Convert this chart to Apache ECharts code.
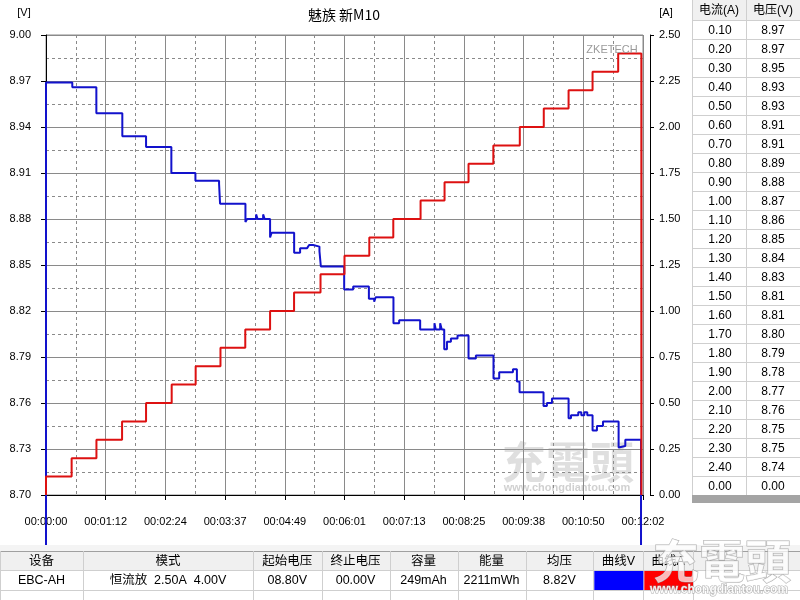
<!DOCTYPE html>
<html>
<head>
<meta charset="utf-8">
<script src="https://cdn.jsdelivr.net/npm/echarts@6/dist/echarts.min.js"></script>
<style>
html, body { margin: 0; padding: 0; background: #fff; }
#chart { width: 800px; height: 600px; }
</style>
</head>
<body>
<div id="chart"></div>
<script>
// 曲线数据 (时间单位: 秒)
var chartTitle = '魅族 新M10';
var voltTimes = [0, 0, 31.8, 60.9, 92.3, 121, 151.6, 180.7, 209.3, 210.5, 241.2, 243.2, 254.1, 255.9, 262.6, 264.4,
    271, 272.9, 300.1, 307.3, 315.8, 318.2, 323.1, 330.7, 332.4, 360.6, 371.5, 390.5, 396.9, 398.7,
    420.2, 427.1, 452.5, 469.8, 471.3, 476.7, 478.6, 481.6, 484.9, 489.7, 497.7, 511, 519.9,
    541.2, 548.1, 564.7, 569.5, 572.7, 601.7, 605.8, 611.9, 632, 634.9, 643.7, 647.4, 651, 654.6,
    661, 666.3, 673.6, 692.5, 694.5, 700.6, 719.6];
var voltValues = [0, 8.969, 8.966, 8.949, 8.934, 8.927, 8.910, 8.905, 8.903, 8.890, 8.878, 8.880, 8.883, 8.880, 8.883, 8.880,
    8.868, 8.871, 8.858, 8.861, 8.862, 8.863, 8.862, 8.859, 8.849, 8.834, 8.836, 8.828, 8.826, 8.829,
    8.812, 8.814, 8.808, 8.812, 8.808, 8.812, 8.808, 8.795, 8.800, 8.802, 8.804, 8.789, 8.791,
    8.776, 8.780, 8.782, 8.774, 8.767, 8.758, 8.760, 8.763, 8.750, 8.752, 8.754, 8.752, 8.754, 8.752,
    8.742, 8.745, 8.748, 8.731, 8.732, 8.736, 0];
var stepTimes = [0, 31, 61, 92, 121, 152, 181, 211, 241, 271, 300, 332, 361, 391, 420, 453, 482, 511, 541, 573, 602, 632, 661, 692];
var stepCurrents = [0.1, 0.2, 0.3, 0.4, 0.5, 0.6, 0.7, 0.8, 0.9, 1.0, 1.1, 1.2, 1.3, 1.4, 1.5, 1.6, 1.7, 1.8, 1.9, 2.0, 2.1, 2.2, 2.3, 2.4];
var endTime = 720;

// 右侧表格
var tableCurrents = ['0.10', '0.20', '0.30', '0.40', '0.50', '0.60', '0.70', '0.80', '0.90', '1.00', '1.10', '1.20', '1.30',
    '1.40', '1.50', '1.60', '1.70', '1.80', '1.90', '2.00', '2.10', '2.20', '2.30', '2.40', '0.00'];
var tableVoltages = ['8.97', '8.97', '8.95', '8.93', '8.93', '8.91', '8.91', '8.89', '8.88', '8.87', '8.86', '8.85', '8.84',
    '8.83', '8.81', '8.81', '8.80', '8.79', '8.78', '8.77', '8.76', '8.75', '8.75', '8.74', '0.00'];

// 底部信息栏
var infoHeaders = ['设备', '模式', '起始电压', '终止电压', '容量', '能量', '均压', '曲线V', '曲线A'];
var infoValues = ['EBC-AH', '恒流放  2.50A  4.00V', '08.80V', '00.00V', '249mAh', '2211mWh', '8.82V', '', ''];

var voltData = voltTimes.map(function (t, i) { return [t, voltValues[i]]; });
var currData = [[0, 0]];
stepTimes.forEach(function (t, i) { currData.push([t, stepCurrents[i]]); });
currData.push([endTime, 0]);

function hms(v) {
    var s = Math.round(v);
    return [Math.floor(s / 3600), Math.floor(s % 3600 / 60), s % 60].map(function (n) {
        return (n < 10 ? '0' : '') + n;
    }).join(':');
}

var latin = 'Liberation Sans';
var cjk = '"Noto Sans CJK SC"';
var gridColor = '#8a8a8a';
var lineColor = '#cfcfcf';

var elements = [];
function txt(x, y, s, size, opt) {
    opt = opt || {};
    elements.push({
        type: 'text', x: x, y: y, z: opt.z || 100,
        style: {
            text: s, fill: opt.fill || '#000', font: (opt.weight || 'normal') + ' ' + size + 'px ' + (opt.family || latin + ',' + cjk),
            align: opt.align || 'center', verticalAlign: 'middle',
            stroke: opt.stroke, lineWidth: opt.lineWidth || 0
        }
    });
}
function rect(x, y, w, h, fill, stroke, z) {
    elements.push({ type: 'rect', z: z || 100, shape: { x: x, y: y, width: w, height: h },
        style: { fill: fill, stroke: stroke || null, lineWidth: stroke ? 1 : 0 } });
}
function hline(x1, x2, y, color) {
    elements.push({ type: 'line', z: 100, shape: { x1: x1, y1: y, x2: x2, y2: y }, style: { stroke: color, lineWidth: 1 } });
}
function vline(x, y1, y2, color) {
    elements.push({ type: 'line', z: 100, shape: { x1: x, y1: y1, x2: x, y2: y2 }, style: { stroke: color, lineWidth: 1 } });
}

// 标题与单位
txt(344, 15, chartTitle, 14, { family: cjk });
txt(24, 13, '[V]', 11);
txt(666, 13, '[A]', 11);
txt(612, 50, 'ZKETECH', 11, { fill: '#9a9a9a', z: 5 });

// 图内水印
txt(568, 462, '充電頭', 44, { family: '"Noto Sans CJK TC"', weight: 'bold', fill: 'rgba(150,150,150,0.3)', z: 1 });
txt(567, 488, 'www.chongdiantou.com', 11, { weight: 'bold', fill: 'rgba(150,150,150,0.45)', z: 1 });

// 右侧表格
var tx0 = 692, txm = 746, tx1 = 800, headH = 20, rowH = 19;
rect(tx0, 0, tx1 - tx0, headH, '#f0f0f0');
rect(tx0, headH, tx1 - tx0, rowH * tableCurrents.length, '#ffffff');
txt((tx0 + txm) / 2, 11, '电流(A)', 12);
txt((txm + tx1) / 2, 11, '电压(V)', 12);
for (var i = 0; i <= tableCurrents.length; i++) hline(tx0, tx1, headH + i * rowH + 0.5, lineColor);
vline(tx0 + 0.5, 0, headH + rowH * tableCurrents.length, lineColor);
vline(txm + 0.5, 0, headH + rowH * tableCurrents.length, lineColor);
tableCurrents.forEach(function (c, i) {
    var y = headH + i * rowH + rowH / 2 + 1;
    txt((tx0 + txm) / 2 + 1, y, c, 12);
    txt((txm + tx1) / 2, y, tableVoltages[i], 12);
});
rect(tx0, 495, tx1 - tx0, 8, '#a4a4a4');

// 底部信息栏
var cols = [0, 83, 253, 321.5, 389.5, 457.5, 525.5, 593.3, 643.3, 693];
rect(0, 545, 800, 7, '#f4f4f4');
rect(0, 551, 800, 19, '#f0f0f0');
rect(0, 570, 800, 30, '#ffffff');
hline(0, 800, 551.5, '#a0a0a0');
hline(0, 800, 570.5, lineColor);
hline(0, 800, 590.5, lineColor);
cols.forEach(function (x) { vline(Math.round(x) + 0.5, 551, 600, lineColor); });
infoHeaders.forEach(function (h, i) {
    var cx = (cols[i] + cols[i + 1]) / 2;
    txt(cx, 562, h, 12.5);
    if (infoValues[i]) txt(cx, 581, infoValues[i], 12.5);
});
rect(cols[7] + 1, 571, cols[8] - cols[7] - 1, 19, '#0000ff');
rect(cols[8] + 1, 571, cols[9] - cols[8] - 1, 19, '#ff0000');

// 右下角 logo
txt(722, 561, '充電頭', 46, { family: '"Noto Sans CJK TC"', weight: 'bold', fill: 'rgba(255,255,255,0.72)', stroke: 'rgba(150,150,150,0.8)', lineWidth: 1, z: 110 });
txt(719, 590, 'www.chongdiantou.com', 12, { weight: 'bold', fill: 'rgba(255,255,255,0.9)', stroke: 'rgba(150,150,150,0.8)', lineWidth: 1, z: 110 });

var chart = echarts.init(document.getElementById('chart'));
var option = {
    animation: false,
    backgroundColor: '#ffffff',
    grid: {
        left: 46, right: 157, top: 35, bottom: 105,
        show: true, borderColor: gridColor, borderWidth: 1, backgroundColor: '#ffffff'
    },
    xAxis: {
        type: 'value',
        min: 0, max: 722, interval: 72.2,
        offset: 6,
        axisLine: { show: true, lineStyle: { color: '#000', width: 1 } },
        axisTick: { show: true, length: 5, lineStyle: { color: '#000' } },
        axisLabel: {
            color: '#000', fontSize: 11, fontFamily: latin, margin: 15,
            formatter: hms, showMinLabel: true, showMaxLabel: true
        },
        splitLine: { show: true, lineStyle: { color: gridColor, width: 1 } },
        minorTick: { show: false, splitNumber: 2 },
        minorSplitLine: { show: true, lineStyle: { color: gridColor, width: 1, type: [3, 3] } }
    },
    yAxis: [{
        type: 'value',
        min: 8.70, max: 9.00, interval: 0.03,
        offset: 4,
        axisLine: { show: true, lineStyle: { color: '#000', width: 1 } },
        axisTick: { show: true, length: 5, lineStyle: { color: '#000' } },
        axisLabel: {
            color: '#000', fontSize: 11, fontFamily: latin, margin: 11,
            formatter: function (v) { return v.toFixed(2); }
        },
        splitLine: { show: true, lineStyle: { color: gridColor, width: 1 } },
        minorTick: { show: false, splitNumber: 2 },
        minorSplitLine: { show: true, lineStyle: { color: gridColor, width: 1, type: [3, 3] } }
    }, {
        type: 'value',
        position: 'right',
        min: 0, max: 2.5, interval: 0.25,
        offset: 7,
        axisLine: { show: true, lineStyle: { color: '#000', width: 1 } },
        axisTick: { show: true, length: 4, lineStyle: { color: '#000' } },
        axisLabel: {
            color: '#000', fontSize: 11, fontFamily: latin, margin: 9,
            formatter: function (v) { return v.toFixed(2); }
        },
        splitLine: { show: false }
    }],
    series: [{
        name: '电压',
        type: 'line',
        step: 'end',
        yAxisIndex: 0,
        clip: false,
        showSymbol: false,
        z: 3,
        lineStyle: { color: '#1212cc', width: 2 },
        data: voltData
    }, {
        name: '电流',
        type: 'line',
        step: 'end',
        yAxisIndex: 1,
        showSymbol: false,
        z: 4,
        lineStyle: { color: '#dd1111', width: 2 },
        data: currData
    }],
    graphic: { elements: elements }
};
chart.setOption(option);
</script>
</body>
</html>
